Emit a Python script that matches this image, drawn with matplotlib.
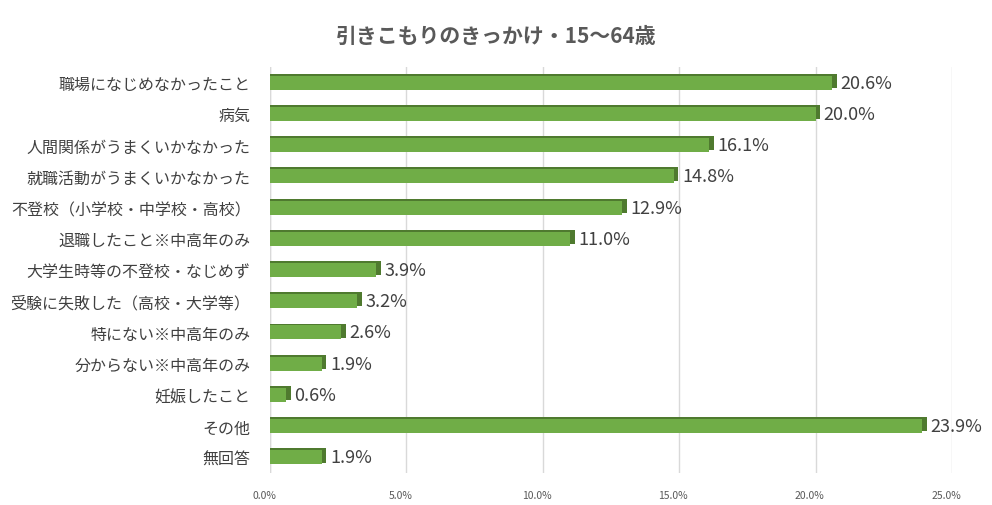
import numpy as np
from matplotlib import pyplot as plt
from matplotlib.ticker import FuncFormatter
import matplotlib.transforms as mtransforms

plt.rcParams['font.family'] = ['Noto Sans CJK JP', 'DejaVu Sans']

categories = [
    "職場になじめなかったこと",
    "病気",
    "人間関係がうまくいかなかった",
    "就職活動がうまくいかなかった",
    "不登校（小学校・中学校・高校）",
    "退職したこと※中高年のみ",
    "大学生時等の不登校・なじめず",
    "受験に失敗した（高校・大学等）",
    "特にない※中高年のみ",
    "分からない※中高年のみ",
    "妊娠したこと",
    "その他",
    "無回答",
]
values = [20.6, 20.0, 16.1, 14.8, 12.9, 11.0, 3.9, 3.2, 2.6, 1.9, 0.6, 23.9, 1.9]
ticks = [0, 5, 10, 15, 20, 25]

fig = plt.figure(figsize=(9.92, 5.06), dpi=100)
ax = fig.add_axes([270 / 992, 1 - 474 / 506, (952 - 270) / 992, (474 - 68) / 506])

y = np.arange(len(categories))
vals = np.array(values)
h = 0.45

# 3d look: thin dark top + right side behind the light front face
ax.barh(y - 0.06, vals + 0.17, height=h, color="#4f7a2f", zorder=2)
ax.barh(y, vals, height=h, color="#70ad47", zorder=3)

for yi, v in zip(y, vals):
    ax.text(v + 0.3, yi, f"{v:.1f}%", va="center", ha="left",
            fontsize=13, color="#404040", zorder=4)

ax.set_xlim(0, 25)
ax.set_ylim(len(categories) - 0.5, -0.5)
ax.set_xticks(ticks)
ax.xaxis.set_major_formatter(FuncFormatter(lambda x, p: f"{x:.1f}%"))
ax.tick_params(axis="x", labelsize=7.5, colors="#595959", length=0, pad=12)
shift = mtransforms.ScaledTranslation(-6 / 100, 0, fig.dpi_scale_trans)
for lab in ax.get_xticklabels():
    lab.set_transform(lab.get_transform() + shift)
ax.set_yticks(y)
ax.set_yticklabels(categories, fontsize=11.5, color="#404040")
ax.tick_params(axis="y", length=0, pad=14)
ax.grid(axis="x", color="#d9d9d9", linewidth=1, zorder=0)
for s in ax.spines.values():
    s.set_visible(False)
ax.axvline(0, color="#d9d9d9", linewidth=1, zorder=1)

fig.text(0.5, 1 - 36 / 506, "引きこもりのきっかけ・15〜64歳", ha="center", va="center",
         fontsize=15, fontweight="bold", color="#595959")

fig.savefig("out.png", dpi=100)
